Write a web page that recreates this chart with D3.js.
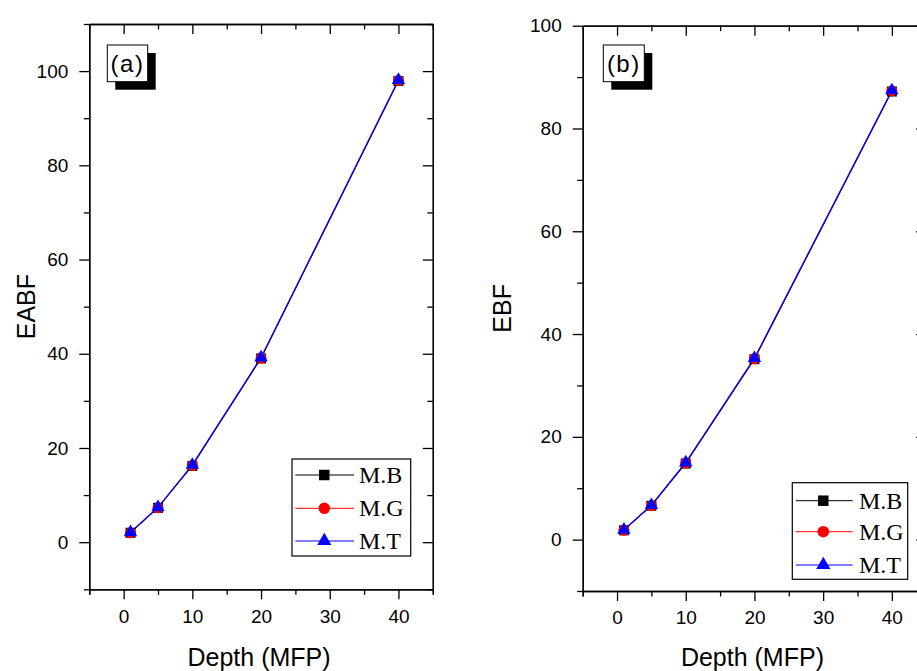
<!DOCTYPE html>
<html><head><meta charset="utf-8">
<script src="https://cdn.jsdelivr.net/npm/d3@7"></script>
<style>body{margin:0;background:#fff}svg{display:block}</style>
</head><body><svg id="c" width="917" height="671"></svg>
<script>
// ---- data ----
const depth = [1, 5, 10, 20, 40];
const seriesNames = ["M.B", "M.G", "M.T"];
const seriesColors = ["#000000", "#ff0000", "#0000ff"];
const eabfMB = [2.0, 7.3, 16.2, 39.0, 97.9];
const eabfMG = [2.0, 7.3, 16.3, 39.1, 98.0];
const eabfMT = [2.1, 7.4, 16.4, 39.2, 98.1];
const ebfMB = [1.8, 6.6, 14.8, 35.1, 87.2];
const ebfMG = [1.8, 6.6, 14.9, 35.2, 87.3];
const ebfMT = [1.9, 6.7, 15.0, 35.3, 87.4];
const xMajor = [0, 10, 20, 30, 40];
const xMinor = [-5, 5, 15, 25, 35, 45];
const yMajorA = [0, 20, 40, 60, 80, 100];
const yMinorA = [-10, 10, 30, 50, 70, 90, 110];
const yMajorB = [0, 20, 40, 60, 80, 100];
const yMinorB = [-10, 10, 30, 50, 70, 90];
const panelTags = ["(a)", "(b)"];
const yTitles = ["EABF", "EBF"];
const xTitle = "Depth (MFP)";

// ---- layout ----
const panels = [
  {left: 89.3, right: 432.8, top: 24, bottom: 589.3, xDom: [-5, 45], yDom: [-10, 110],
   yMajor: yMajorA, yMinor: yMinorA, series: [eabfMB, eabfMG, eabfMT],
   tag: panelTags[0], tagBox: [107.3, 45, 40.4, 36.7], yTitle: yTitles[0], yTitleX: 35,
   legend: {x: 292, y: 459, w: 118.7, h: 97, rows: [475, 508.3, 541], lx0: 295.3, lx1: 354, mx: 324.3, tx: 359}},
  {left: 582.7, right: 926.2, top: 25.7, bottom: 591, xDom: [-5, 45], yDom: [-10, 100],
   yMajor: yMajorB, yMinor: yMinorB, series: [ebfMB, ebfMG, ebfMT],
   tag: panelTags[1], tagBox: [603.3, 45, 41, 36.7], yTitle: yTitles[1], yTitleX: 511,
   legend: {x: 792.3, y: 482.7, w: 115.4, h: 96.6, rows: [500.7, 531.7, 565], lx0: 796, lx1: 852.7, mx: 823.3, tx: 859}}
];

const svg = d3.select("#c");
const symbols = [d3.symbolSquare, d3.symbolCircle, d3.symbolTriangle];
const symSizes = [100, 95, 78];
const lineWidths = [1, 1, 1.3];
const font = "'Liberation Sans', Arial, sans-serif";

panels.forEach(p => {
  const x = d3.scaleLinear().domain(p.xDom).range([p.left, p.right]);
  const y = d3.scaleLinear().domain(p.yDom).range([p.bottom, p.top]);
  const g = svg.append("g");

  function styleAxis(sel) {
    sel.selectAll("path.domain").attr("stroke", "#000").attr("stroke-width", 1.3);
    sel.selectAll(".tick line").attr("stroke", "#000").attr("stroke-width", 1.3);
    sel.selectAll(".tick text").attr("font-family", font).attr("font-size", 19).attr("fill", "#000");
  }
  // bottom
  g.append("g").attr("transform", `translate(0,${p.bottom})`)
    .call(d3.axisBottom(x).tickValues(xMinor).tickSize(5.5).tickFormat(""))
    .call(styleAxis);
  g.append("g").attr("transform", `translate(0,${p.bottom})`)
    .call(d3.axisBottom(x).tickValues(xMajor).tickSizeInner(10).tickSizeOuter(0).tickPadding(10).tickFormat(d3.format("d")))
    .call(styleAxis);
  // top (inward)
  g.append("g").attr("transform", `translate(0,${p.top})`)
    .call(d3.axisTop(x).tickValues(xMinor).tickSizeInner(-5.5).tickSizeOuter(0).tickFormat(""))
    .call(styleAxis);
  g.append("g").attr("transform", `translate(0,${p.top})`)
    .call(d3.axisTop(x).tickValues(xMajor).tickSizeInner(-10).tickSizeOuter(0).tickFormat(""))
    .call(styleAxis);
  // left
  g.append("g").attr("transform", `translate(${p.left},0)`)
    .call(d3.axisLeft(y).tickValues(p.yMinor).tickSizeInner(5.5).tickSizeOuter(0).tickFormat(""))
    .call(styleAxis);
  g.append("g").attr("transform", `translate(${p.left},0)`)
    .call(d3.axisLeft(y).tickValues(p.yMajor).tickSizeInner(10).tickSizeOuter(0).tickPadding(11).tickFormat(d3.format("d")))
    .call(styleAxis);
  // right (inward)
  g.append("g").attr("transform", `translate(${p.right},0)`)
    .call(d3.axisRight(y).tickValues(p.yMinor).tickSizeInner(-5.5).tickSizeOuter(0).tickFormat(""))
    .call(styleAxis);
  g.append("g").attr("transform", `translate(${p.right},0)`)
    .call(d3.axisRight(y).tickValues(p.yMajor).tickSizeInner(-10).tickSizeOuter(0).tickFormat(""))
    .call(styleAxis);

  // titles
  g.append("text").attr("x", (p.left + p.right) / 2 - 2).attr("y", 666)
    .attr("text-anchor", "middle").attr("font-family", font).attr("font-size", 25)
    .attr("fill", "#000").text(xTitle);
  g.append("text").attr("transform", `translate(${p.yTitleX},${(p.top + p.bottom) / 2}) rotate(-90)`)
    .attr("text-anchor", "middle").attr("font-family", font).attr("font-size", 25)
    .attr("fill", "#000").text(p.yTitle);

  // tag box with shadow
  const [bx, by, bw, bh] = p.tagBox;
  g.append("rect").attr("x", bx + 8).attr("y", by + 8).attr("width", bw).attr("height", bh).attr("fill", "#000");
  g.append("rect").attr("x", bx).attr("y", by).attr("width", bw).attr("height", bh)
    .attr("fill", "#fff").attr("stroke", "#000").attr("stroke-width", 1);
  g.append("text").attr("x", bx + bw / 2).attr("y", by + bh / 2 + 8.5).attr("text-anchor", "middle")
    .attr("font-family", font).attr("font-size", 24).attr("letter-spacing", 1.5).attr("fill", "#000").text(p.tag);

  // series
  const line = d3.line().x((d, i) => x(depth[i])).y(d => y(d));
  p.series.forEach((vals, si) => {
    g.append("path").datum(vals).attr("d", line).attr("fill", "none")
      .attr("stroke", seriesColors[si]).attr("stroke-width", lineWidths[si]);
  });
  p.series.forEach((vals, si) => {
    g.selectAll(null).data(vals).enter().append("path")
      .attr("d", d3.symbol().type(symbols[si]).size(symSizes[si]))
      .attr("transform", (d, i) => `translate(${x(depth[i])},${y(d)})`)
      .attr("fill", seriesColors[si]);
  });

  // legend
  const L = p.legend;
  g.append("rect").attr("x", L.x).attr("y", L.y).attr("width", L.w).attr("height", L.h)
    .attr("fill", "#fff").attr("stroke", "#000").attr("stroke-width", 1.2);
  seriesNames.forEach((name, si) => {
    const ry = L.rows[si];
    g.append("line").attr("x1", L.lx0).attr("x2", L.lx1).attr("y1", ry).attr("y2", ry)
      .attr("stroke", seriesColors[si]).attr("stroke-width", 1);
    g.append("path").attr("d", d3.symbol().type(symbols[si]).size(symSizes[si] + 10)())
      .attr("transform", `translate(${L.mx},${ry})`).attr("fill", seriesColors[si]);
    g.append("text").attr("x", L.tx).attr("y", ry + 8).attr("font-family", "'Liberation Serif', 'Times New Roman', serif")
      .attr("font-size", 24).attr("fill", "#000").text(name);
  });
});
</script></body></html>
